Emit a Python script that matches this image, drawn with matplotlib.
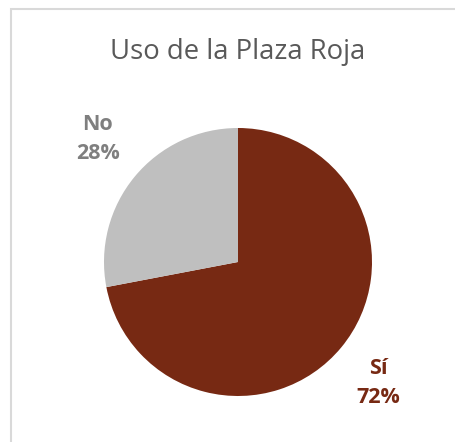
import matplotlib
matplotlib.use("Agg")
import matplotlib.pyplot as plt
from matplotlib.patches import Rectangle

categories = ["Sí", "No"]
values = [72, 28]
colors = ["#772913", "#BFBFBF"]
label_colors = ["#772913", "#7F7F7F"]
title = "Uso de la Plaza Roja"

plt.rcParams['font.family'] = ['Open Sans', 'DejaVu Sans']

W, H = 456, 442
fig = plt.figure(figsize=(W/100, H/100), dpi=100)
fig.patches.append(Rectangle((11/W, 1 - 460/H), (480-11)/W, (460-9)/H,
                             transform=fig.transFigure, fill=False,
                             edgecolor="#D9D9D9", linewidth=1.5))

ax = fig.add_axes([(238-134)/W, 1-(262+134)/H, 268/W, 268/H])
wedges, _ = ax.pie(values, colors=colors, startangle=90, counterclock=False,
                   wedgeprops=dict(linewidth=0))
ax.set_aspect('equal')
ax.set_xlim(-1, 1)
ax.set_ylim(-1, 1)

fig.text(238/W, 1-52/H, title, ha='center', va='center', fontsize=19.8,
         color="#595959")

label_pos = [(378, 383), (98, 139)]
for cat, v, c, (x, y) in zip(categories, values, label_colors, label_pos):
    fig.text(x/W, 1-y/H, f"{cat}\n{v}%", ha='center', va='center',
             fontsize=15.5, fontweight='bold', color=c, linespacing=1.5)

fig.savefig("out.png", dpi=100)
